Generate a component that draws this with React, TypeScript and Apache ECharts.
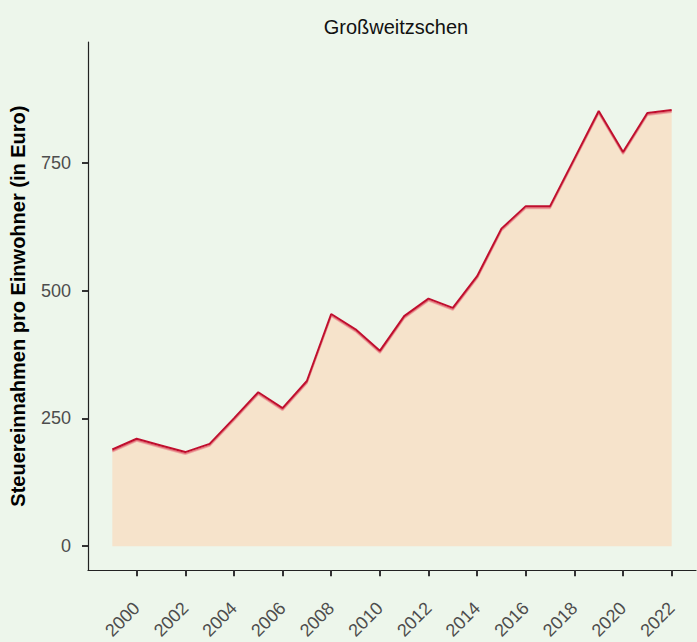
import React, { useEffect, useRef } from "react";
import * as echarts from "echarts";

const titleText = "Großweitzschen";
const yAxisTitle = "Steuereinnahmen pro Einwohner (in Euro)";
const years = [1999, 2000, 2001, 2002, 2003, 2004, 2005, 2006, 2007, 2008, 2009, 2010, 2011, 2012, 2013, 2014, 2015, 2016, 2017, 2018, 2019, 2020, 2021, 2022];
const values = [189, 210, 197, 184, 200, 250, 301, 270, 323, 454, 424, 382, 450, 484, 466, 528, 621, 665, 665, 758, 851, 771, 847, 853];
const xTicks = [2000, 2002, 2004, 2006, 2008, 2010, 2012, 2014, 2016, 2018, 2020, 2022];
const yTicks = [0, 250, 500, 750];

const FONT = "'Liberation Sans', Arial, Helvetica, sans-serif";

export default function App() {
  const ref = useRef<HTMLDivElement>(null);
  useEffect(() => {
    if (!ref.current) return;
    const chart = echarts.init(ref.current, undefined, { renderer: "svg" });
    chart.setOption({
      animation: false,
      backgroundColor: "#EDF6EB",
      textStyle: { fontFamily: FONT },
      title: {
        text: titleText,
        left: 391,
        top: 12,
        textAlign: "center",
        textStyle: { fontFamily: FONT, fontSize: 20, fontWeight: "normal", color: "#111" },
      },
      grid: { left: 86, right: 1, top: 42, bottom: 71, containLabel: false },
      xAxis: {
        type: "value",
        min: 1998,
        max: 2023,
        splitLine: { show: false },
        axisLine: { show: true, onZero: false, lineStyle: { color: "#222", width: 1.2 } },
        axisTick: { show: true, customValues: xTicks, length: 6, lineStyle: { color: "#333", width: 2 } },
        axisLabel: {
          customValues: xTicks,
          rotate: 45,
          margin: 35,
          fontSize: 18,
          color: "#4D4D4D",
          fontFamily: FONT,
          formatter: (v: number) => String(v),
        },
      },
      yAxis: {
        type: "value",
        min: -47,
        max: 986,
        name: yAxisTitle,
        nameLocation: "middle",
        nameRotate: 90,
        nameGap: 60,
        nameTextStyle: { fontFamily: FONT, fontSize: 20, fontWeight: "bold", color: "#000" },
        splitLine: { show: false },
        axisLine: { show: true, onZero: false, lineStyle: { color: "#222", width: 1.2 } },
        axisTick: { show: true, customValues: yTicks, length: 6, lineStyle: { color: "#333", width: 2 } },
        axisLabel: {
          customValues: yTicks,
          margin: 17,
          fontSize: 18,
          color: "#4D4D4D",
          fontFamily: FONT,
        },
      },
      series: [
        {
          type: "line",
          data: years.map((y, i) => [y, values[i]]),
          showSymbol: false,
          symbol: "none",
          lineStyle: {
            color: "#C0112F",
            width: 2,
            shadowColor: "rgba(226, 96, 112, 0.9)",
            shadowOffsetY: 1.5,
            shadowBlur: 0,
          },
          areaStyle: { color: "#F6E3CB", opacity: 1, origin: 0 },
        },
      ],
    });
    return () => chart.dispose();
  }, []);
  return <div ref={ref} style={{ width: 697, height: 642, position: "absolute", left: 0, top: 0 }} />;
}
